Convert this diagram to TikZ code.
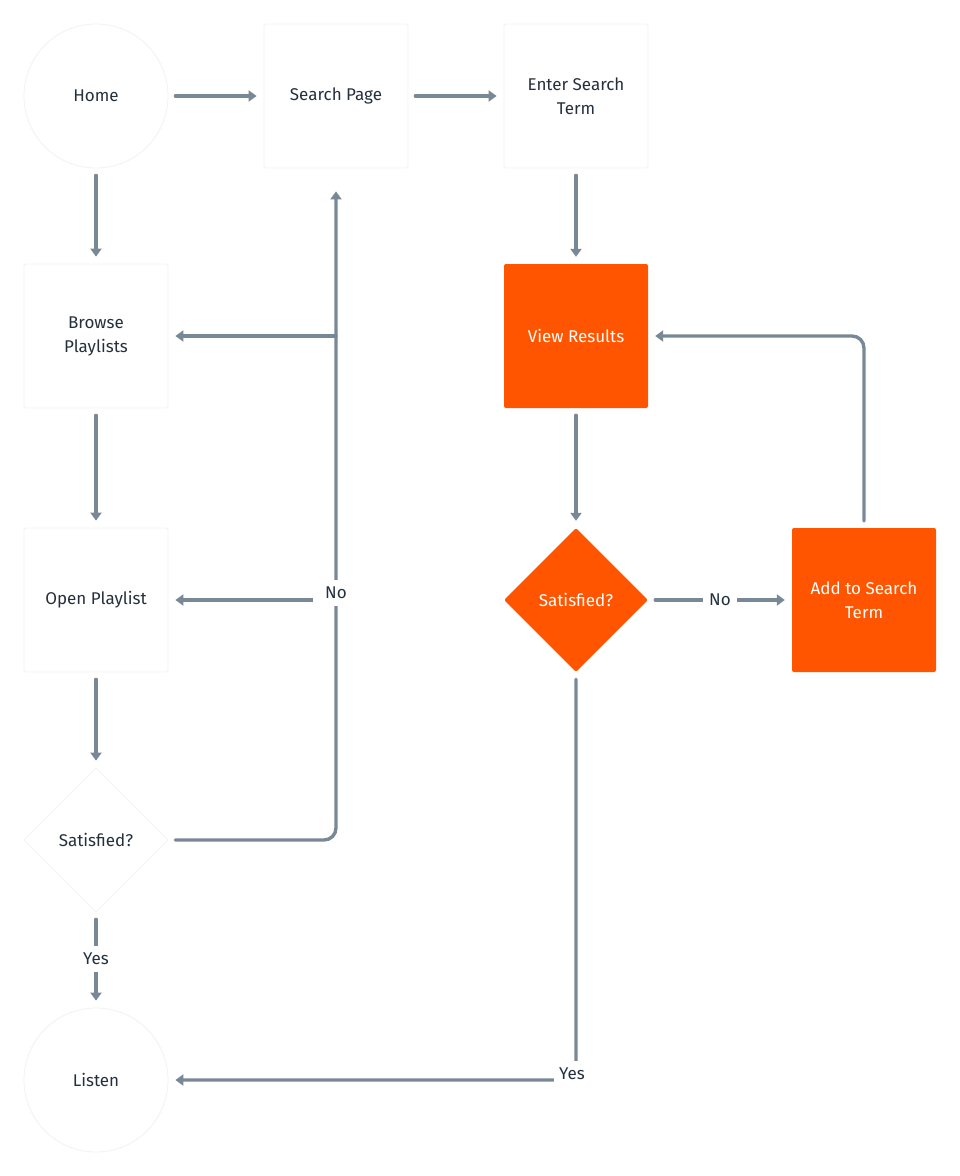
\documentclass[tikz,border=0pt]{standalone}
\usepackage{fontspec}
\setmainfont{Fira Sans}
\usetikzlibrary{shapes.geometric,arrows.meta,calc}
\definecolor{conn}{HTML}{788896}
\definecolor{txt}{HTML}{25303D}
\definecolor{orng}{HTML}{FF5500}
\definecolor{edge}{HTML}{F2F2F2}
\tikzset{
  base/.style={inner sep=0pt, align=center, font=\fontsize{17}{24}\selectfont, text=txt},
  box/.style={base, rectangle, minimum size=144pt, rounded corners=2pt, fill=white, draw=edge, line width=0.8pt},
  obox/.style={base, rectangle, minimum size=144pt, rounded corners=2pt, fill=orng, text=white},
  circ/.style={base, circle, minimum size=144pt, fill=white, draw=edge, line width=0.8pt},
  dia/.style={base, diamond, minimum width=144pt, minimum height=144pt, fill=white, draw=edge, line width=0.8pt},
  odia/.style={base, diamond, minimum width=144pt, minimum height=144pt, fill=orng, text=white, rounded corners=2pt},
  arr/.style={draw=conn, line width=3.4pt, line cap=round, -{Triangle[length=8pt,width=11pt]}},
  lbl/.style={fill=white, text=txt, font=\fontsize{17}{18}\selectfont, inner sep=0pt, minimum width=30pt, minimum height=26pt},
}
\begin{document}
\begin{tikzpicture}[x=1pt,y=-1pt]
\useasboundingbox (0,0) rectangle (960,1176);
\node[circ] (home) at (96,96) {Home};
\node[box] (search) at (336,96) {Search Page};
\node[box] (enter) at (576,96) {Enter Search\\Term};
\node[box] (browse) at (96,336) {Browse\\Playlists};
\node[obox] (view) at (576,336) {View Results};
\node[box] (open) at (96,600) {Open Playlist};
\node[odia] (sato) at (576,600) {Satisfied?};
\node[obox] (add) at (864,600) {Add to Search\\Term};
\node[dia] (satw) at (96,840) {Satisfied?};
\node[circ] (listen) at (96,1080) {Listen};

\draw[arr] ([xshift=7pt]home.east) -- ([xshift=-7pt]search.west);
\draw[arr] ([xshift=7pt]search.east) -- ([xshift=-7pt]enter.west);
\draw[arr] ([yshift=-7pt]home.south) -- ([yshift=7pt]browse.north);
\draw[arr] ([yshift=-7pt]enter.south) -- ([yshift=7pt]view.north);
\draw[arr] ([yshift=-7pt]browse.south) -- ([yshift=7pt]open.north);
\draw[arr] ([yshift=-7pt]view.south) -- ([yshift=7pt]sato.north);
\draw[arr] ([yshift=-7pt]open.south) -- ([yshift=7pt]satw.north);
\draw[arr] ([yshift=-7pt]satw.south) -- node[lbl, yshift=1pt] (yes1) {Yes} ([yshift=7pt]listen.north);
\draw[arr] ([xshift=7pt]sato.east) -- node[lbl, minimum width=34pt] (no1) {No} ([xshift=-7pt]add.west);
\draw[arr, rounded corners=12pt] ([yshift=7pt]add.north) |- ([xshift=7pt]view.east);
\draw[arr, rounded corners=12pt] ([xshift=7pt]satw.east) -| ([yshift=-23pt]search.south);
\draw[arr] (search.south |- browse) -- ([xshift=7pt]browse.east);
\draw[arr] (search.south |- open) -- ([xshift=7pt]open.east);
\node[lbl, minimum width=46pt] (no2) at (336,593) {No};
\draw[arr, rounded corners=12pt] ([yshift=-7pt]sato.south) |- ([xshift=7pt]listen.east);
\node[lbl, minimum width=36pt] (yes2) at (572,1074) {Yes};
\end{tikzpicture}
\end{document}
